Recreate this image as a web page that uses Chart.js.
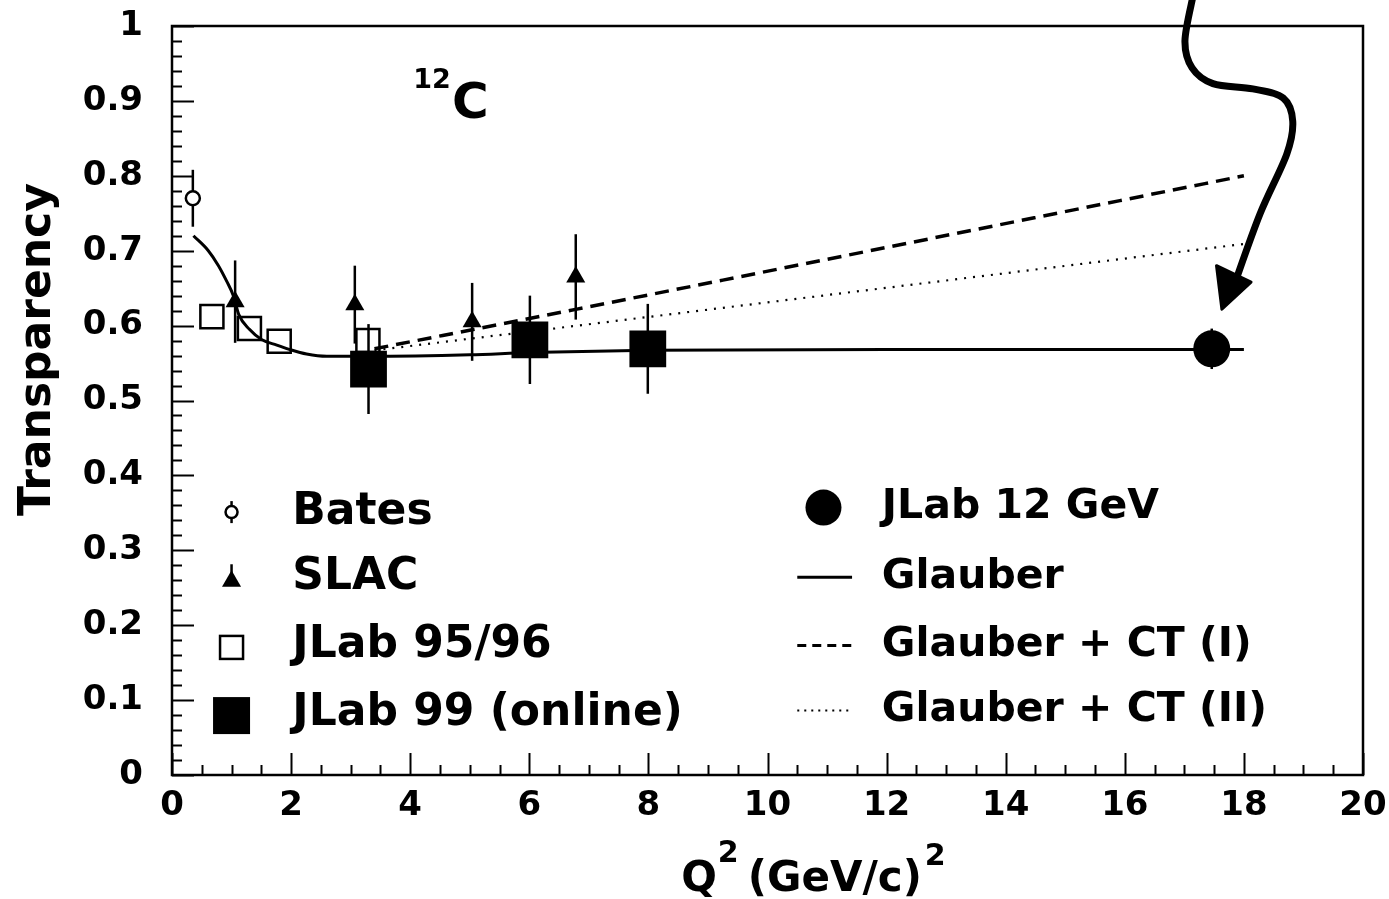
<!DOCTYPE html>
<html>
<head>
<meta charset="utf-8">
<script src="https://cdn.jsdelivr.net/npm/chart.js@4.4.1/dist/chart.umd.min.js"></script>
<style>
  html, body { margin: 0; padding: 0; background: #fff; }
  #wrap { width: 1389px; height: 899px; }
</style>
</head>
<body>
<div id="wrap"><canvas id="c" width="1389" height="899"></canvas></div>
<script>
// ---- Nuclear transparency of 12C, T versus Q^2 in (GeV/c)^2 ----

// Bates
const batesQ2 = [0.35];
const batesT = [0.770];
const batesErr = [0.038];

// SLAC
const slacQ2 = [1.06, 3.07, 5.04, 6.78];
const slacT = [0.632, 0.628, 0.605, 0.665];
const slacErr = [0.055, 0.052, 0.052, 0.057];

// JLab 95/96
const jlab9596Q2 = [0.67, 1.30, 1.80, 3.29];
const jlab9596T = [0.612, 0.596, 0.579, 0.580];

// JLab 99 (online)
const jlab99Q2 = [3.30, 6.01, 7.99];
const jlab99T = [0.542, 0.581, 0.569];
const jlab99Err = [0.060, 0.059, 0.060];

// JLab 12 GeV projection
const jlab12Q2 = [17.46];
const jlab12T = [0.569];
const jlab12Err = [0.027];

// Glauber calculation
const glauberQ2 = [0.36, 0.61, 0.78, 0.92, 1.03, 1.12, 1.30, 1.51, 1.76, 1.98, 2.26, 2.60, 3.27, 5.0, 6.0, 8.0, 12.0, 18.0];
const glauberT  = [0.720, 0.700, 0.680, 0.659, 0.640, 0.615, 0.595, 0.581, 0.574, 0.568, 0.562, 0.559, 0.559, 0.561, 0.564, 0.567, 0.568, 0.568];

// Glauber + colour transparency, two models
const ct1Q2 = [3.4, 6.8, 18.0];
const ct1T  = [0.569, 0.622, 0.800];
const ct2Q2 = [3.4, 6.4, 18.0];
const ct2T  = [0.567, 0.596, 0.709];

// Axis tick labels
const xTickValues = [0, 2, 4, 6, 8, 10, 12, 14, 16, 18, 20];
const xTickLabels = ['0', '2', '4', '6', '8', '10', '12', '14', '16', '18', '20'];
const yTickValues = [0, 0.1, 0.2, 0.3, 0.4, 0.5, 0.6, 0.7, 0.8, 0.9, 1];
const yTickLabels = ['0', '0.1', '0.2', '0.3', '0.4', '0.5', '0.6', '0.7', '0.8', '0.9', '1'];

const INK = '#000';
const FONT = '"DejaVu Sans", "Liberation Sans", sans-serif';

const pts = (xs, ys) => xs.map((x, i) => ({ x, y: ys[i] }));

// ---- marker helpers used by the legend ----
function markCircle(ctx, x, y, r, fill, lw) {
  ctx.beginPath();
  ctx.arc(x, y, r, 0, Math.PI * 2);
  if (fill) { ctx.fillStyle = fill; ctx.fill(); }
  if (lw) { ctx.lineWidth = lw; ctx.strokeStyle = INK; ctx.stroke(); }
}
function markSquare(ctx, x, y, side, filled, lw) {
  if (filled) { ctx.fillStyle = INK; ctx.fillRect(x - side / 2, y - side / 2, side, side); }
  else { ctx.lineWidth = lw; ctx.strokeStyle = INK; ctx.strokeRect(x - side / 2, y - side / 2, side, side); }
}
function markTriangle(ctx, x, y, r) {
  ctx.beginPath();
  for (let k = 0; k < 3; k++) {
    const a = k * 2 * Math.PI / 3;
    const px = x + Math.sin(a) * r, py = y - Math.cos(a) * r;
    k ? ctx.lineTo(px, py) : ctx.moveTo(px, py);
  }
  ctx.closePath();
  ctx.fillStyle = INK;
  ctx.fill();
}
function vbar(ctx, x, y0, y1, lw) {
  ctx.beginPath();
  ctx.moveTo(x, y0); ctx.lineTo(x, y1);
  ctx.lineWidth = lw; ctx.strokeStyle = INK; ctx.stroke();
}

// ---- frame, inward ticks, error bars and annotations ----
const frameAndErrors = {
  id: 'frameAndErrors',
  beforeDatasetsDraw(chart) {
    const { ctx, chartArea: a, scales: { x, y } } = chart;
    ctx.save();
    ctx.strokeStyle = INK;
    ctx.lineWidth = 2;
    ctx.lineCap = 'butt';
    // x ticks every 0.5, long every 2
    for (let k = 0; k <= 40; k++) {
      const px = Math.round(x.getPixelForValue(k * 0.5)) + 0.5;
      const len = k % 4 === 0 ? 22 : 10;
      ctx.beginPath(); ctx.moveTo(px, a.bottom); ctx.lineTo(px, a.bottom - len); ctx.stroke();
    }
    // y ticks every 0.02, long every 0.1
    for (let k = 0; k <= 50; k++) {
      const py = Math.round(y.getPixelForValue(k * 0.02)) + 0.5;
      const len = k % 5 === 0 ? 22 : 10;
      ctx.beginPath(); ctx.moveTo(a.left, py); ctx.lineTo(a.left + len, py); ctx.stroke();
    }
    // frame
    ctx.lineWidth = 2.5;
    ctx.strokeRect(a.left, a.top, a.right - a.left, a.bottom - a.top);

    // vertical error bars (markers are drawn over them)
    chart.data.datasets.forEach(ds => {
      if (!ds.errorBars) return;
      ds.data.forEach((p, i) => {
        const e = ds.errorBars[i];
        vbar(ctx, x.getPixelForValue(p.x), y.getPixelForValue(p.y - e), y.getPixelForValue(p.y + e), 2.5);
      });
    });
    ctx.restore();
  },

  afterDraw(chart) {
    const { ctx, chartArea: a, scales: { x, y } } = chart;
    const X = v => x.getPixelForValue(v);
    const Y = v => y.getPixelForValue(v);
    const ds = chart.data.datasets;
    ctx.save();
    ctx.fillStyle = INK;

    // target label 12C
    ctx.textBaseline = 'alphabetic';
    ctx.textAlign = 'left';
    ctx.font = `bold 27px ${FONT}`;
    ctx.fillText('12', X(4.05), Y(0.917));
    ctx.font = `bold 50px ${FONT}`;
    ctx.fillText('C', X(4.70), Y(0.877));

    // legend, left column
    const rowsL = [0.351, 0.264, 0.173, 0.082];
    const lx = X(1.0), tx = X(2.02);
    ctx.font = `bold 44px ${FONT}`;
    ctx.textBaseline = 'middle';
    // Bates
    vbar(ctx, lx, Y(rowsL[0]) - 11, Y(rowsL[0]) + 11, 2.5);
    markCircle(ctx, lx, Y(rowsL[0]), 6, '#fff', 2.5);
    // SLAC
    vbar(ctx, lx, Y(rowsL[1]) - 13, Y(rowsL[1]) + 2, 2.5);
    markTriangle(ctx, lx, Y(rowsL[1]) + 4, 11);
    // JLab 95/96
    markSquare(ctx, lx, Y(rowsL[2]) + 2, 23, false, 2.5);
    // JLab 99
    markSquare(ctx, lx, Y(rowsL[3]) + 2, 37, true);
    const labelsL = [ds[4].label, ds[3].label, ds[2].label, ds[1].label];
    ctx.fillStyle = INK;
    labelsL.forEach((t, i) => ctx.fillText(t, tx, Y(rowsL[i])));

    // legend, right column
    const rowsR = [0.357, 0.264, 0.173, 0.086];
    const rx0 = X(10.5), rx1 = X(11.42), rc = X(10.94), rtx = X(11.92);
    markCircle(ctx, rc, Y(rowsR[0]), 18, INK, 0);
    ctx.strokeStyle = INK;
    ctx.lineWidth = 3;
    ctx.beginPath(); ctx.moveTo(rx0, Y(rowsR[1])); ctx.lineTo(rx1, Y(rowsR[1])); ctx.stroke();
    ctx.setLineDash([9, 6]);
    ctx.beginPath(); ctx.moveTo(rx0, Y(rowsR[2])); ctx.lineTo(rx1, Y(rowsR[2])); ctx.stroke();
    ctx.lineWidth = 2;
    ctx.setLineDash([2, 5]);
    ctx.beginPath(); ctx.moveTo(rx0, Y(rowsR[3])); ctx.lineTo(rx1, Y(rowsR[3])); ctx.stroke();
    ctx.setLineDash([]);
    ctx.font = `bold 41px ${FONT}`;
    const labelsR = [ds[0].label, ds[5].label, ds[6].label, ds[7].label];
    labelsR.forEach((t, i) => ctx.fillText(t, rtx, Y(rowsR[i])));

    // axis titles
    ctx.textBaseline = 'alphabetic';
    ctx.textAlign = 'left';
    const base = a.bottom + 116;
    let cx = X(8.55);
    ctx.font = `bold 42px ${FONT}`;
    ctx.fillText('Q', cx, base);
    cx += ctx.measureText('Q').width + 1;
    ctx.font = `bold 30px ${FONT}`;
    ctx.fillText('2', cx, base - 29);
    cx += ctx.measureText('2').width + 9;
    ctx.font = `bold 42px ${FONT}`;
    ctx.fillText('(GeV/c)', cx, base);
    cx += ctx.measureText('(GeV/c)').width + 3;
    ctx.font = `bold 30px ${FONT}`;
    ctx.fillText('2', cx, base - 26);

    ctx.save();
    ctx.translate(50, Y(0.568));
    ctx.rotate(-Math.PI / 2);
    ctx.textAlign = 'center';
    ctx.font = `bold 44px ${FONT}`;
    ctx.fillText('Transparency', 0, 0);
    ctx.restore();

    // hand-drawn arrow pointing at the 12 GeV projection
    const path = [[17.145, 1.04], [17.01, 0.980], [17.13, 0.944], [17.48, 0.923], [18.15, 0.916],
                  [18.66, 0.904], [18.82, 0.873], [18.72, 0.829], [18.27, 0.749], [17.84, 0.655]]
                 .map(([q, t]) => [X(q), Y(t)]);
    ctx.strokeStyle = INK;
    ctx.lineWidth = 7;
    ctx.lineCap = 'round';
    ctx.lineJoin = 'round';
    ctx.beginPath();
    ctx.moveTo(path[0][0], path[0][1]);
    for (let i = 0; i < path.length - 1; i++) {
      const p0 = path[Math.max(0, i - 1)], p1 = path[i], p2 = path[i + 1], p3 = path[Math.min(path.length - 1, i + 2)];
      ctx.bezierCurveTo(
        p1[0] + (p2[0] - p0[0]) / 6, p1[1] + (p2[1] - p0[1]) / 6,
        p2[0] - (p3[0] - p1[0]) / 6, p2[1] - (p3[1] - p1[1]) / 6,
        p2[0], p2[1]);
    }
    ctx.stroke();
    ctx.beginPath();
    ctx.moveTo(X(17.54), Y(0.680));
    ctx.lineTo(X(18.12), Y(0.658));
    ctx.lineTo(X(17.63), Y(0.622));
    ctx.closePath();
    ctx.fillStyle = INK;
    ctx.fill();
    ctx.lineWidth = 3;
    ctx.stroke();
    ctx.restore();
  }
};

const tickFont = { family: FONT, weight: 'bold', size: 34 };

new Chart(document.getElementById('c'), {
  type: 'scatter',
  data: {
    datasets: [
      { label: 'JLab 12 GeV', data: pts(jlab12Q2, jlab12T), errorBars: jlab12Err,
        pointStyle: 'circle', pointRadius: 18.5, pointBackgroundColor: INK, pointBorderColor: INK, pointBorderWidth: 0, order: 0 },
      { label: 'JLab 99 (online)', data: pts(jlab99Q2, jlab99T), errorBars: jlab99Err,
        pointStyle: 'rect', pointRadius: 26, pointBackgroundColor: INK, pointBorderColor: INK, pointBorderWidth: 0, order: 1 },
      { label: 'JLab 95/96', data: pts(jlab9596Q2, jlab9596T),
        pointStyle: 'rect', pointRadius: 16.3, pointBackgroundColor: 'rgba(0,0,0,0)', pointBorderColor: INK, pointBorderWidth: 2.5, order: 2 },
      { label: 'SLAC', data: pts(slacQ2, slacT), errorBars: slacErr,
        pointStyle: 'triangle', pointRadius: 11, pointBackgroundColor: INK, pointBorderColor: INK, pointBorderWidth: 0, order: 3 },
      { label: 'Bates', data: pts(batesQ2, batesT), errorBars: batesErr,
        pointStyle: 'circle', pointRadius: 7, pointBackgroundColor: '#fff', pointBorderColor: INK, pointBorderWidth: 2.5, order: 4 },
      { label: 'Glauber', data: pts(glauberQ2, glauberT), showLine: true, pointRadius: 0,
        borderColor: INK, borderWidth: 3, cubicInterpolationMode: 'monotone', order: 5 },
      { label: 'Glauber + CT (I)', data: pts(ct1Q2, ct1T), showLine: true, pointRadius: 0,
        borderColor: INK, borderWidth: 3.5, borderDash: [14, 8], cubicInterpolationMode: 'monotone', order: 6 },
      { label: 'Glauber + CT (II)', data: pts(ct2Q2, ct2T), showLine: true, pointRadius: 0,
        borderColor: INK, borderWidth: 2.2, borderDash: [2, 7], cubicInterpolationMode: 'monotone', order: 7 }
    ]
  },
  options: {
    responsive: false,
    animation: false,
    devicePixelRatio: 1,
    layout: { padding: { top: 25, right: 26, left: 0, bottom: 0 } },
    plugins: { legend: { display: false }, tooltip: { enabled: false } },
    scales: {
      x: {
        type: 'linear', min: 0, max: 20,
        border: { display: false },
        grid: { display: false, drawTicks: false },
        afterBuildTicks: s => { s.ticks = xTickValues.map(v => ({ value: v })); },
        afterFit: s => { s.height = 124; s.paddingLeft = 0; s.paddingRight = 0; },
        ticks: { autoSkip: false, maxRotation: 0, padding: 11, color: INK, font: tickFont,
                 callback: (v, i) => xTickLabels[i] }
      },
      y: {
        type: 'linear', min: 0, max: 1,
        border: { display: false },
        grid: { display: false, drawTicks: false },
        afterBuildTicks: s => { s.ticks = yTickValues.map(v => ({ value: v })); },
        afterFit: s => { s.width = 172; s.paddingTop = 0; s.paddingBottom = 0; },
        ticks: { autoSkip: false, padding: 29, color: INK, font: tickFont,
                 callback: (v, i) => yTickLabels[i] }
      }
    }
  },
  plugins: [frameAndErrors]
});
</script>
</body>
</html>
